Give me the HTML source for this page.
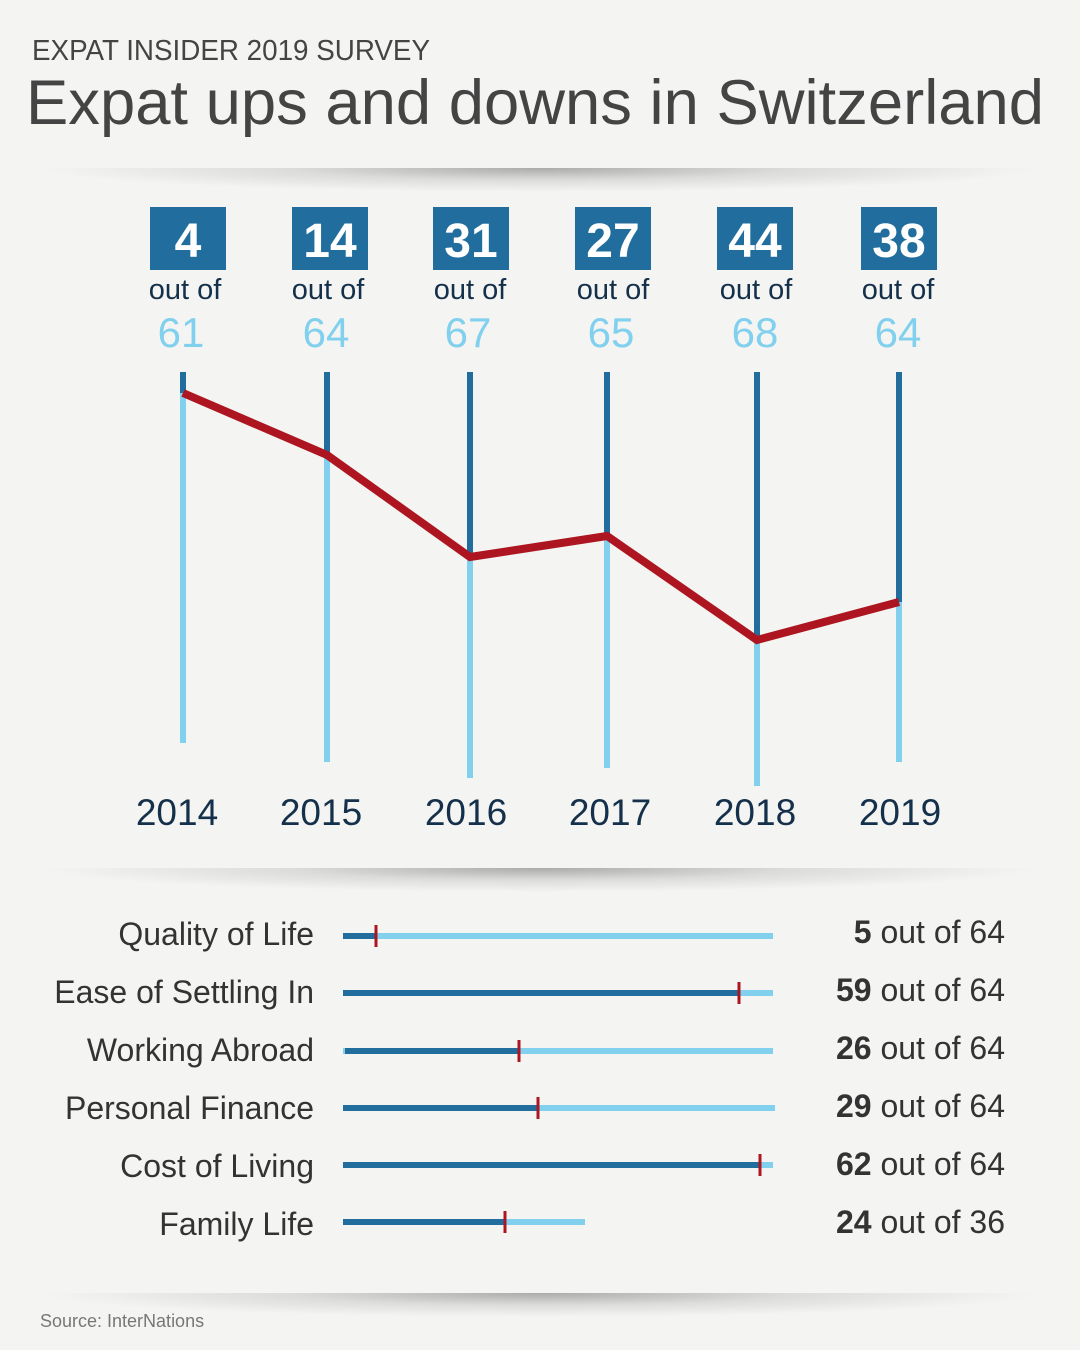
<!DOCTYPE html>
<html><head><meta charset="utf-8"><style>
html,body{margin:0;padding:0;background:#f4f4f2;}
svg{display:block;font-family:"Liberation Sans",sans-serif;}
</style></head><body>
<svg width="1080" height="1350" viewBox="0 0 1080 1350" xmlns="http://www.w3.org/2000/svg">
<defs>
<radialGradient id="sh" cx="0.5" cy="0.5" r="0.5">
<stop offset="0" stop-color="#000" stop-opacity="0.3"/>
<stop offset="0.5" stop-color="#000" stop-opacity="0.1"/>
<stop offset="1" stop-color="#000" stop-opacity="0"/>
</radialGradient>
</defs>
<rect width="1080" height="1350" fill="#f4f4f2"/>
<text x="32" y="60" font-size="29" fill="#444" textLength="398" lengthAdjust="spacingAndGlyphs">EXPAT INSIDER 2019 SURVEY</text>
<text x="26" y="124" font-size="63" fill="#444" textLength="1018" lengthAdjust="spacingAndGlyphs">Expat ups and downs in Switzerland</text>

<ellipse cx="540" cy="168" rx="500" ry="24" fill="url(#sh)"/>
<rect x="0" y="140" width="1080" height="28" fill="#f4f4f2"/>
<ellipse cx="540" cy="868" rx="500" ry="24" fill="url(#sh)"/>
<rect x="0" y="840" width="1080" height="28" fill="#f4f4f2"/>
<ellipse cx="540" cy="1293" rx="500" ry="24" fill="url(#sh)"/>
<rect x="0" y="1265" width="1080" height="28" fill="#f4f4f2"/>

<g fill="#216e9e">
<rect x="150" y="207" width="76" height="63"/><rect x="292" y="207" width="76" height="63"/>
<rect x="433" y="207" width="76" height="63"/><rect x="575" y="207" width="76" height="63"/>
<rect x="717" y="207" width="76" height="63"/><rect x="861" y="207" width="76" height="63"/>
</g>
<g fill="#fff" font-size="48" font-weight="bold" text-anchor="middle">
<text x="188" y="257">4</text><text x="330" y="257">14</text><text x="471" y="257">31</text>
<text x="613" y="257">27</text><text x="755" y="257">44</text><text x="899" y="257">38</text>
</g>
<g fill="#14304a" font-size="29" text-anchor="middle">
<text x="185" y="299">out of</text><text x="328" y="299">out of</text><text x="470" y="299">out of</text>
<text x="613" y="299">out of</text><text x="756" y="299">out of</text><text x="898" y="299">out of</text>
</g>
<g fill="#80d0ee" font-size="42" text-anchor="middle">
<text x="181" y="347">61</text><text x="326" y="347">64</text><text x="468" y="347">67</text>
<text x="611" y="347">65</text><text x="755" y="347">68</text><text x="898" y="347">64</text>
</g>

<g stroke-width="6">
<line x1="183" y1="372" x2="183" y2="393" stroke="#216e9e"/><line x1="183" y1="393" x2="183" y2="743" stroke="#80d0ee"/>
<line x1="327" y1="372" x2="327" y2="455" stroke="#216e9e"/><line x1="327" y1="455" x2="327" y2="762" stroke="#80d0ee"/>
<line x1="470" y1="372" x2="470" y2="557" stroke="#216e9e"/><line x1="470" y1="557" x2="470" y2="778" stroke="#80d0ee"/>
<line x1="607" y1="372" x2="607" y2="536" stroke="#216e9e"/><line x1="607" y1="536" x2="607" y2="768" stroke="#80d0ee"/>
<line x1="757" y1="372" x2="757" y2="640" stroke="#216e9e"/><line x1="757" y1="640" x2="757" y2="786" stroke="#80d0ee"/>
<line x1="899" y1="372" x2="899" y2="602" stroke="#216e9e"/><line x1="899" y1="602" x2="899" y2="762" stroke="#80d0ee"/>
</g>
<polyline points="183,393 327,455 470,557 607,536 757,640 899,602" fill="none" stroke="#ad1620" stroke-width="8" stroke-linejoin="miter"/>

<g fill="#14304a" font-size="37" text-anchor="middle">
<text x="177" y="825">2014</text><text x="321" y="825">2015</text><text x="466" y="825">2016</text>
<text x="610" y="825">2017</text><text x="755" y="825">2018</text><text x="900" y="825">2019</text>
</g>

<g fill="#333" font-size="32" text-anchor="end">
<text x="314" y="945">Quality of Life</text>
<text x="314" y="1003">Ease of Settling In</text>
<text x="314" y="1061">Working Abroad</text>
<text x="314" y="1119">Personal Finance</text>
<text x="314" y="1177">Cost of Living</text>
<text x="314" y="1235">Family Life</text>
</g>
<g stroke-width="6">
<line x1="343" y1="936" x2="773" y2="936" stroke="#80d0ee"/><line x1="343" y1="936" x2="376" y2="936" stroke="#216e9e"/>
<line x1="343" y1="993" x2="773" y2="993" stroke="#80d0ee"/><line x1="343" y1="993" x2="739" y2="993" stroke="#216e9e"/>
<line x1="343" y1="1051" x2="773" y2="1051" stroke="#80d0ee"/><line x1="345" y1="1051" x2="519" y2="1051" stroke="#216e9e"/>
<line x1="343" y1="1108" x2="775" y2="1108" stroke="#80d0ee"/><line x1="343" y1="1108" x2="538" y2="1108" stroke="#216e9e"/>
<line x1="343" y1="1165" x2="773" y2="1165" stroke="#80d0ee"/><line x1="343" y1="1165" x2="760" y2="1165" stroke="#216e9e"/>
<line x1="343" y1="1222" x2="585" y2="1222" stroke="#80d0ee"/><line x1="343" y1="1222" x2="505" y2="1222" stroke="#216e9e"/>
</g>
<g stroke="#ad1620" stroke-width="3">
<line x1="376" y1="925" x2="376" y2="947"/><line x1="739" y1="982" x2="739" y2="1004"/>
<line x1="519" y1="1040" x2="519" y2="1062"/><line x1="538" y1="1097" x2="538" y2="1119"/>
<line x1="760" y1="1154" x2="760" y2="1176"/><line x1="505" y1="1211" x2="505" y2="1233"/>
</g>
<g fill="#333" font-size="32" text-anchor="end">
<text x="1005" y="943"><tspan font-weight="bold">5</tspan> out of 64</text>
<text x="1005" y="1001"><tspan font-weight="bold">59</tspan> out of 64</text>
<text x="1005" y="1059"><tspan font-weight="bold">26</tspan> out of 64</text>
<text x="1005" y="1117"><tspan font-weight="bold">29</tspan> out of 64</text>
<text x="1005" y="1175"><tspan font-weight="bold">62</tspan> out of 64</text>
<text x="1005" y="1233"><tspan font-weight="bold">24</tspan> out of 36</text>
</g>
<text x="40" y="1327" font-size="18" fill="#777">Source: InterNations</text>
</svg>
</body></html>
